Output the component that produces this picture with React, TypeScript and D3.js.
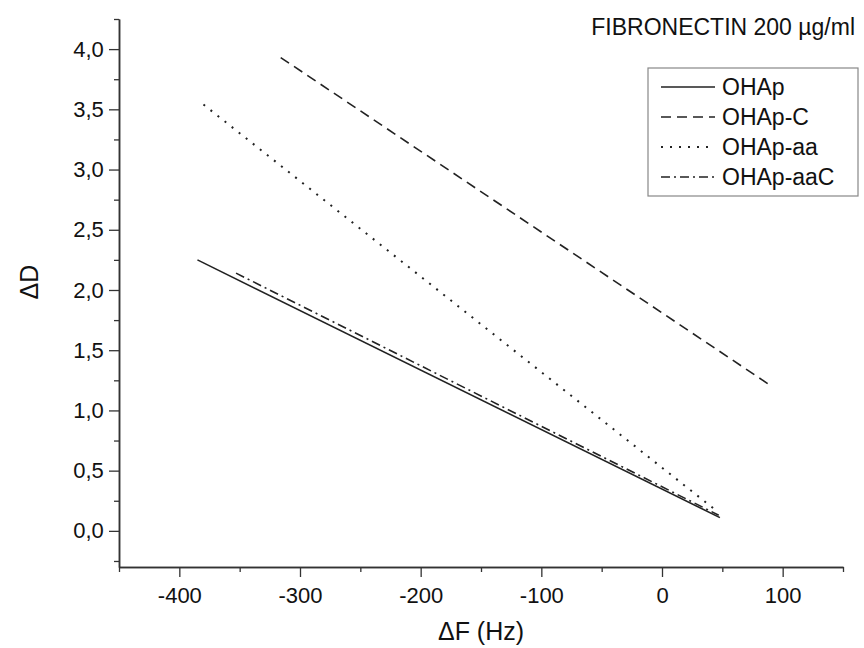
import React, { useRef, useEffect } from 'react'
import * as d3 from 'd3'

const seriesNames = ['OHAp', 'OHAp-C', 'OHAp-aa', 'OHAp-aaC']
const seriesDash = ['none', '10,6', '2,7', '9,4,2,4']

// endpoints of each fitted line (ΔF, ΔD)
const ohapF = [-385, 48]
const ohapD = [2.25, 0.11]
const ohapCF = [-316, 91]
const ohapCD = [3.93, 1.2]
const ohapAaF = [-380, 46]
const ohapAaD = [3.54, 0.16]
const ohapAaCF = [-353, 47]
const ohapAaCD = [2.14, 0.13]

const xTicks = [-400, -300, -200, -100, 0, 100]
const xTickLabels = ['-400', '-300', '-200', '-100', '0', '100']
const yTicks = [0, 0.5, 1, 1.5, 2, 2.5, 3, 3.5, 4]
const yTickLabels = ['0,0', '0,5', '1,0', '1,5', '2,0', '2,5', '3,0', '3,5', '4,0']

const font = 'Liberation Sans, Arial, sans-serif'

export default function App() {
  const ref = useRef<SVGSVGElement>(null)

  useEffect(() => {
    const el = ref.current
    if (!el) return
    const svg = d3.select(el)
    svg.selectAll('*').remove()

    const x = d3.scaleLinear().domain([-450, 150]).range([119, 843])
    const y = d3.scaleLinear().domain([-0.3, 4.25]).range([567, 19])

    const g = svg.append('g')

    const xAxis = d3.axisBottom(x).tickValues(xTicks).tickSize(10).tickSizeOuter(0)
      .tickFormat((d, i) => xTickLabels[i])
    const yAxis = d3.axisLeft(y).tickValues(yTicks).tickSize(10).tickSizeOuter(0)
      .tickFormat((d, i) => yTickLabels[i])

    // minor ticks
    const xMinor = d3.range(-450, 151, 50).filter(v => !xTicks.includes(v))
    const yMinor = d3.range(-0.25, 4.26, 0.5)
    g.append('g').attr('transform', `translate(0,${y(-0.3)})`)
      .call(d3.axisBottom(x).tickValues(xMinor).tickSize(5).tickSizeOuter(0).tickFormat(() => ''))
    g.append('g').attr('transform', `translate(${x(-450)},0)`)
      .call(d3.axisLeft(y).tickValues(yMinor).tickSize(5).tickSizeOuter(0).tickFormat(() => ''))

    const gx = g.append('g').attr('transform', `translate(0,${y(-0.3)})`).call(xAxis)
    gx.selectAll('text').attr('font-size', 22).attr('font-family', font).attr('fill', '#111').attr('dy', '1.05em')
    const gy = g.append('g').attr('transform', `translate(${x(-450)},0)`).call(yAxis)
    gy.selectAll('text').attr('font-size', 22).attr('font-family', font).attr('fill', '#111').attr('dx', '-0.1em')

    g.selectAll('.domain, .tick line').attr('stroke', '#333').attr('stroke-width', 1.3)
    g.selectAll('.domain').attr('stroke-width', 1.5)

    const data = [
      d3.zip(ohapF, ohapD),
      d3.zip(ohapCF, ohapCD),
      d3.zip(ohapAaF, ohapAaD),
      d3.zip(ohapAaCF, ohapAaCD),
    ]
    const line = d3.line<number[]>().x(d => x(d[0])).y(d => y(d[1]))

    data.forEach((s, i) => {
      g.append('path')
        .datum(s)
        .attr('fill', 'none')
        .attr('stroke', '#222')
        .attr('stroke-width', i === 2 ? 2 : 1.6)
        .attr('stroke-dasharray', seriesDash[i])
        .attr('d', line)
    })

    // axis titles
    svg.append('text').attr('x', 481).attr('y', 640).attr('text-anchor', 'middle')
      .attr('font-size', 25).attr('font-family', font).attr('fill', '#111').text('ΔF (Hz)')
    svg.append('text').attr('transform', 'translate(38,282) rotate(-90)').attr('text-anchor', 'middle')
      .attr('font-size', 25).attr('font-family', font).attr('fill', '#111').text('ΔD')

    svg.append('text').attr('x', 855).attr('y', 35).attr('text-anchor', 'end')
      .attr('font-size', 23).attr('font-family', font).attr('fill', '#111').text('FIBRONECTIN 200 µg/ml')

    // legend
    const lg = svg.append('g')
    lg.append('rect').attr('x', 648).attr('y', 68).attr('width', 210).attr('height', 128)
      .attr('fill', 'white').attr('stroke', '#888').attr('stroke-width', 1.2)
    const ly = d3.scalePoint().domain(seriesNames).range([87, 177])
    seriesNames.forEach((n, i) => {
      lg.append('line').attr('x1', 661).attr('x2', 715).attr('y1', ly(n)!).attr('y2', ly(n)!)
        .attr('stroke', '#222').attr('stroke-width', i === 2 ? 2 : 1.6).attr('stroke-dasharray', seriesDash[i])
      lg.append('text').attr('x', 722).attr('y', ly(n)!).attr('dy', '0.36em')
        .attr('font-size', 23).attr('font-family', font).attr('fill', '#111').text(n)
    })
  }, [])

  return (
    <svg ref={ref} width={864} height={648}
      style={{ position: 'absolute', left: 0, top: 0, background: 'white' }} />
  )
}
